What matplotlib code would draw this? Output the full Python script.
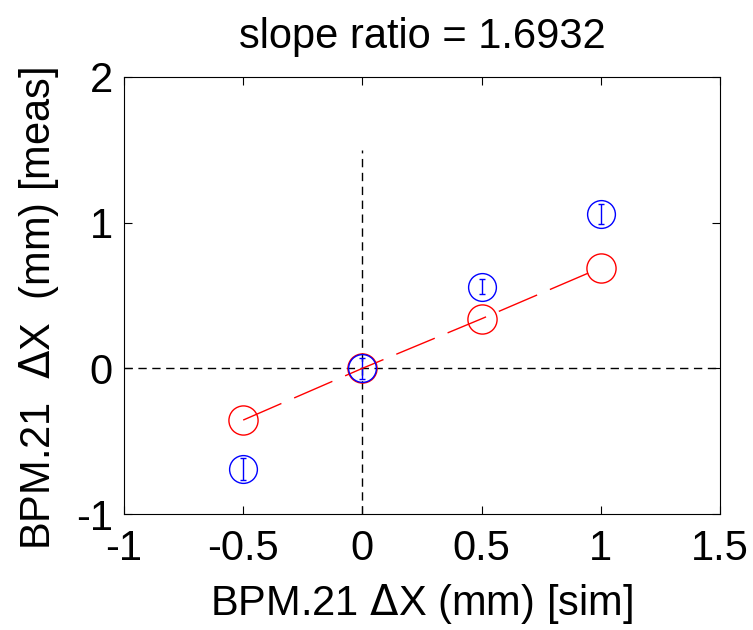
import numpy as np
import matplotlib.pyplot as plt

plt.rcParams['font.family'] = ['Liberation Sans', 'DejaVu Sans']

# data
x_sim = [-0.5, 0.0, 0.5, 1.0]
y_meas = [-0.69, 0.0, 0.56, 1.06]
y_err = [0.075, 0.07, 0.05, 0.07]
y_fit = [-0.355, 0.0, 0.34, 0.69]
slope_ratio = 1.6932

fig = plt.figure(figsize=(7.53, 6.3), dpi=100)
ax = fig.add_axes([0.1647, 0.184, 0.7913, 0.694])

# dashed cross-hair
ax.plot([0, 0], [-1, 1.5], '--k', lw=1, dashes=(6, 4))
ax.plot([-1, 1.5], [0, 0], '--k', lw=1, dashes=(6, 4))

# measured points with error bars
ax.errorbar(x_sim, y_meas, yerr=y_err, fmt='o', mfc='none', mec='b', ecolor='b',
            ms=20, mew=1, elinewidth=1, capsize=2)

# fitted points
ax.plot(x_sim, y_fit, 'o', mfc='none', mec='r', ms=21, mew=1)
ax.plot(x_sim, y_fit, '-', color='r', lw=1, dashes=(30, 10))

ax.set_xlim(-1, 1.5)
ax.set_ylim(-1, 2)
ax.set_xticks([-1, -0.5, 0, 0.5, 1, 1.5])
ax.set_xticklabels(['-1', '-0.5', '0', '0.5', '1', '1.5'])
ax.set_yticks([-1, 0, 1, 2])
ax.set_yticklabels(['-1', '0', '1', '2'])
ax.tick_params(direction='in', top=True, right=True, labelsize=30, length=6, pad=8)
ax.tick_params(axis='x', pad=11)

ax.set_title('slope ratio = %.4f' % slope_ratio, fontsize=30, pad=21)
ax.set_xlabel(r'BPM.21 $\Delta$X (mm) [sim]', fontsize=30, labelpad=9)
ax.set_ylabel(r'BPM.21  $\Delta$X  (mm) [meas]', fontsize=30)
ax.yaxis.set_label_coords(-0.105, 0.47)

plt.savefig('out.png', dpi=100)
